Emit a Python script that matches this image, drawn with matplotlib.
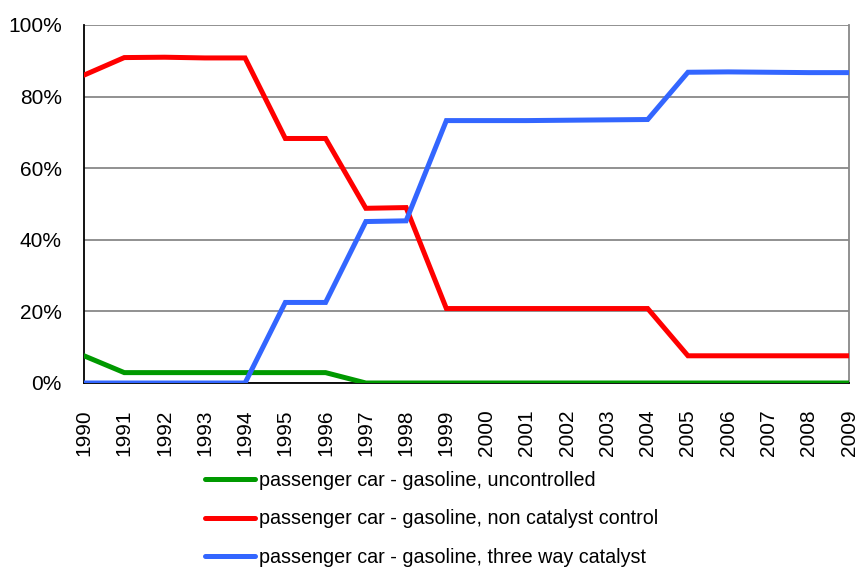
import numpy as np
import matplotlib
matplotlib.use("Agg")
import matplotlib.pyplot as plt
from matplotlib.ticker import PercentFormatter

plt.rcParams["font.family"] = ["Liberation Sans", "DejaVu Sans"]

years = list(range(1990, 2010))

uncontrolled = [7.6, 2.9, 2.9, 2.9, 2.9, 2.9, 2.9, 0.0, 0.0, 0.0,
                0.0, 0.0, 0.0, 0.0, 0.0, 0.0, 0.0, 0.0, 0.0, 0.0]
non_catalyst = [86.0, 90.9, 91.0, 90.8, 90.8, 68.3, 68.3, 48.8, 49.0, 20.8,
                20.8, 20.8, 20.8, 20.8, 20.8, 7.6, 7.6, 7.6, 7.6, 7.6]
three_way = [0.0, 0.0, 0.0, 0.0, 0.0, 22.5, 22.5, 45.1, 45.3, 73.3,
             73.3, 73.3, 73.4, 73.5, 73.6, 86.8, 86.9, 86.8, 86.7, 86.7]

labels = [
    "passenger car - gasoline, uncontrolled",
    "passenger car - gasoline, non catalyst control",
    "passenger car - gasoline, three way catalyst",
]
colors = ["#009900", "#FF0000", "#3366FF"]

fig = plt.figure(figsize=(8.59, 5.68), dpi=100)
ax = fig.add_axes([84 / 859, 1 - 383 / 568, (849 - 84) / 859, (383 - 25) / 568])

for vals, lab, col in zip([uncontrolled, non_catalyst, three_way], labels, colors):
    ax.plot(years, vals, color=col, lw=3.6, label=lab,
            solid_capstyle="round", solid_joinstyle="miter", zorder=3)

ax.set_xlim(1990, 2009)
ax.set_ylim(0, 100)
ax.set_yticks(np.arange(0, 101, 20))
ax.yaxis.set_major_formatter(PercentFormatter(decimals=0))
ax.set_xticks(years)
ax.set_xticklabels([str(y) for y in years], rotation=90)

ax.grid(axis="y", color="#888888", lw=1.3, zorder=1)
ax.tick_params(axis="y", length=0, pad=16, labelsize=15)
ax.tick_params(axis="x", length=0, pad=19, labelsize=15)

ax.spines["top"].set_visible(False)
ax.spines["right"].set_color("#888888")
ax.spines["right"].set_linewidth(1.3)
ax.spines["left"].set_color("black")
ax.spines["left"].set_linewidth(1.3)
ax.spines["bottom"].set_color("black")
ax.spines["bottom"].set_linewidth(1.3)

handles, labs = ax.get_legend_handles_labels()
fig.legend(handles, labs, loc="center left",
           bbox_to_anchor=(205 / 859, 1 - 519 / 568),
           frameon=False, fontsize=14.2, handlelength=2.55,
           handletextpad=0.2, labelspacing=1.0,
           borderpad=0, borderaxespad=0)

fig.savefig("out.png", dpi=100)
